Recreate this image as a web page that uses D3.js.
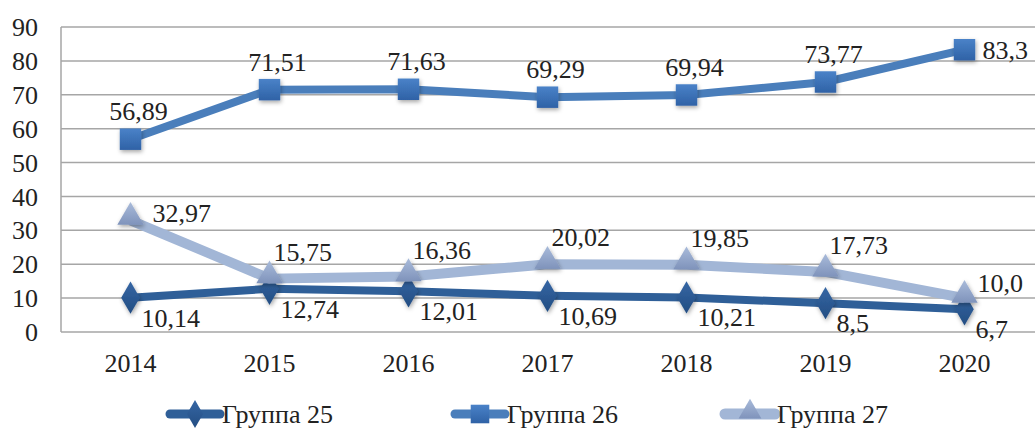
<!DOCTYPE html>
<html>
<head>
<meta charset="utf-8">
<script src="https://cdn.jsdelivr.net/npm/d3@7"></script>
<style>
  body { margin: 0; background: #fff; }
</style>
</head>
<body>
<div id="chart"></div>
<script>
const years = ["2014", "2015", "2016", "2017", "2018", "2019", "2020"];
const group25 = [10.14, 12.74, 12.01, 10.69, 10.21, 8.5, 6.7];
const group26 = [56.89, 71.51, 71.63, 69.29, 69.94, 73.77, 83.3];
const group27 = [32.97, 15.75, 16.36, 20.02, 19.85, 17.73, 10.0];
const labels25 = ["10,14", "12,74", "12,01", "10,69", "10,21", "8,5", "6,7"];
const labels26 = ["56,89", "71,51", "71,63", "69,29", "69,94", "73,77", "83,3"];
const labels27 = ["32,97", "15,75", "16,36", "20,02", "19,85", "17,73", "10,0"];
const yTicks = [0, 10, 20, 30, 40, 50, 60, 70, 80, 90];

const width = 1035;
const height = 431;
const fontSize = 26;
const serif = "\"Liberation Serif\", serif";
const textColor = "#222";

const svg = d3
  .select("#chart")
  .append("svg")
  .attr("width", width)
  .attr("height", height);

const defs = svg.append("defs");
const shadow = defs.append("filter").attr("id", "shadow")
  .attr("x", "-50%").attr("y", "-50%").attr("width", "200%").attr("height", "200%");
shadow.append("feDropShadow")
  .attr("dx", 1).attr("dy", 2).attr("stdDeviation", 2)
  .attr("flood-color", "#000").attr("flood-opacity", 0.35);

function grad(id, top, bottom) {
  const g = defs.append("linearGradient").attr("id", id)
    .attr("x1", 0).attr("y1", 0).attr("x2", 0).attr("y2", 1);
  g.append("stop").attr("offset", "0%").attr("stop-color", top);
  g.append("stop").attr("offset", "100%").attr("stop-color", bottom);
}
grad("g25", "#3566a4", "#234d82");
grad("g26", "#4a82c8", "#2f62a6");
grad("g27", "#a9bbda", "#7f93bb");

const x = d3.scalePoint().domain(years).range([61, 1034]).padding(0.5);
const y = d3.scaleLinear().domain([0, 90]).range([332, 27]);

function styleText(sel) {
  sel.style("font-family", serif)
    .style("font-size", fontSize + "px")
    .attr("fill", textColor);
}

// grid
svg.append("g")
  .selectAll("line")
  .data(yTicks)
  .enter()
  .append("line")
  .attr("x1", 61)
  .attr("x2", width)
  .attr("y1", (d) => y(d))
  .attr("y2", (d) => y(d))
  .attr("stroke", "#a6a6a6")
  .attr("stroke-width", 1.5);

svg.append("line")
  .attr("x1", 61).attr("x2", 61)
  .attr("y1", y(90)).attr("y2", y(0))
  .attr("stroke", "#a6a6a6").attr("stroke-width", 1.5);

svg.append("g")
  .selectAll("text")
  .data(yTicks)
  .enter()
  .append("text")
  .attr("x", 38)
  .attr("y", (d) => y(d))
  .attr("dy", "0.35em")
  .attr("text-anchor", "end")
  .call(styleText)
  .text((d) => d);

svg.append("g")
  .selectAll("text")
  .data(years)
  .enter()
  .append("text")
  .attr("x", (d) => x(d))
  .attr("y", 372)
  .attr("text-anchor", "middle")
  .call(styleText)
  .text((d) => d);

const series = [
  { name: "Группа 25", values: group25, labels: labels25, color: "#2f5f98", fill: "url(#g25)", width: 8, shape: d3.symbolDiamond, size: 300 },
  { name: "Группа 26", values: group26, labels: labels26, color: "#4a7ebb", fill: "url(#g26)", width: 8, shape: d3.symbolSquare, size: 460 },
  { name: "Группа 27", values: group27, labels: labels27, color: "#a2b6d6", fill: "url(#g27)", width: 10, shape: d3.symbolTriangle, size: 300 }
];

function labelPos(s, i) {
  const px = x(years[i]);
  const py = y(s.values[i]);
  const last = years.length - 1;
  if (s.name === "Группа 26") {
    if (i === last) return { x: px + 18, y: py, anchor: "start" };
    return { x: px + 8, y: py - 28, anchor: "middle" };
  }
  if (s.name === "Группа 27") {
    if (i === 0) return { x: px + 22, y: py - 7, anchor: "start" };
    if (i === last) return { x: px + 13, y: py - 15, anchor: "start" };
    return { x: px + 4, y: py - 27, anchor: "start" };
  }
  return { x: px + 11, y: py + 20, anchor: "start" };
}

const line = d3.line().x((d, i) => x(years[i])).y((d) => y(d));

series.forEach((s) => {
  const g = svg.append("g");
  g.append("path")
    .datum(s.values)
    .attr("d", line)
    .attr("fill", "none")
    .attr("stroke", s.color)
    .attr("stroke-width", s.width)
    .attr("stroke-linejoin", "round");

  g.selectAll("path.marker")
    .data(s.values)
    .enter()
    .append("path")
    .attr("class", "marker")
    .attr("d", d3.symbol().type(s.shape).size(s.size))
    .attr("transform", (d, i) => {
      const sy = s.shape === d3.symbolTriangle ? -3 : 0;
      return `translate(${x(years[i])},${y(d) + sy})`;
    })
    .attr("fill", s.fill)
    .attr("filter", "url(#shadow)");
});

series.forEach((s) => {
  svg.append("g")
    .selectAll("text")
    .data(s.labels)
    .enter()
    .append("text")
    .call(styleText)
    .each(function (d, i) {
      const p = labelPos(s, i);
      d3.select(this)
        .attr("x", p.x)
        .attr("y", p.y)
        .attr("dy", "0.35em")
        .attr("text-anchor", p.anchor)
        .text(d);
    });
});

// legend
const legendX = [170, 455, 725];
const legend = svg.append("g")
  .selectAll("g")
  .data(series)
  .enter()
  .append("g")
  .attr("transform", (d, i) => `translate(${legendX[i]}, 414)`);

legend.append("line")
  .attr("x1", 0).attr("x2", 50)
  .attr("stroke", (d) => d.color)
  .attr("stroke-width", (d) => d.width + 1)
  .attr("stroke-linecap", "round");

legend.append("path")
  .attr("d", (d) => d3.symbol().type(d.shape).size(d.size * 0.75)())
  .attr("transform", (d) => `translate(25, ${d.shape === d3.symbolTriangle ? -2 : 0})`)
  .attr("fill", (d) => d.fill);

legend.append("text")
  .attr("x", 52)
  .attr("y", 0)
  .attr("dy", "0.35em")
  .call(styleText)
  .text((d) => d.name);
</script>
</body>
</html>
